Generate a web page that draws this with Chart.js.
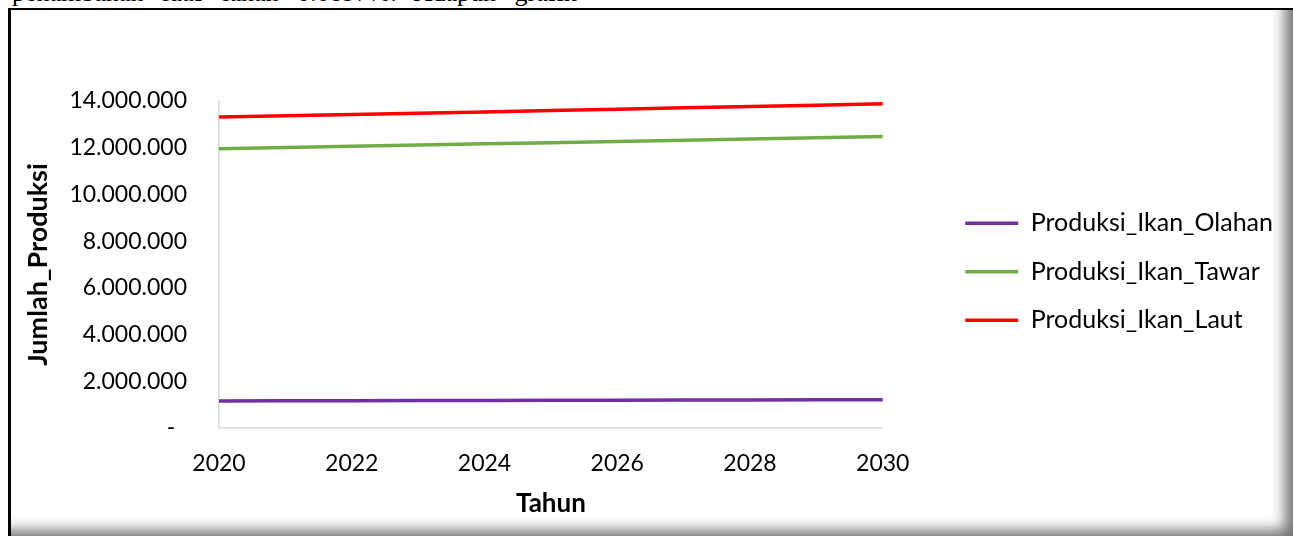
<!DOCTYPE html>
<html>
<head>
<meta charset="utf-8">
<script src="https://cdn.jsdelivr.net/npm/chart.js@4.4.0/dist/chart.umd.min.js"></script>
<style>
  html, body { margin: 0; padding: 0; background: #fff; width: 1293px; height: 536px; overflow: hidden; }
  #teks { position: absolute; left: 12px; top: -20px; font-family: "Liberation Serif", serif; font-size: 26px; line-height: 26px; word-spacing: 12px; white-space: nowrap; color: #000; }
  #bingkai { position: absolute; left: 8px; top: 8px; right: 0; bottom: 0; box-sizing: border-box;
    border-left: 3px solid #000; border-top: 2px solid #000; background: #fff;
    box-shadow: inset -16px -14px 14px -8px rgba(0,0,0,0.55); }
  #grafik { position: absolute; left: 0; top: 0; }
</style>
</head>
<body>
<div id="teks">penambahan luas lahan 0.0897%. Adapun grafik</div>
<div id="bingkai"></div>
<canvas id="grafik" width="1293" height="536"></canvas>
<script>
// tahun proyeksi
const tahun = [2020, 2021, 2022, 2023, 2024, 2025, 2026, 2027, 2028, 2029, 2030];

const ikanOlahan = [1160000, 1165000, 1170000, 1175000, 1180000, 1185000, 1190000, 1195000, 1200000, 1205000, 1210000];
const ikanTawar = [11960000, 12010000, 12062000, 12113000, 12165000, 12217000, 12269000, 12321000, 12374000, 12427000, 12480000];
const ikanLaut = [13310000, 13365000, 13420000, 13477000, 13534000, 13590000, 13648000, 13706000, 13764000, 13822000, 13880000];

const namaSeri = ['Produksi_Ikan_Olahan', 'Produksi_Ikan_Tawar', 'Produksi_Ikan_Laut'];
const warnaSeri = ['#7030A0', '#70AD47', '#FF0000'];

const tickY = [0, 2000000, 4000000, 6000000, 8000000, 10000000, 12000000, 14000000];

function titik(vals) {
  return tahun.map((t, i) => ({ x: t, y: vals[i] }));
}

function formatRibuan(v) {
  if (v === 0) return '-  ';
  return String(v).replace(/\B(?=(\d{3})+(?!\d))/g, '.');
}

Chart.defaults.font.family = 'Lato';
Chart.defaults.font.size = 23;
Chart.defaults.color = '#000';

const seri = [ikanOlahan, ikanTawar, ikanLaut];

const ctx = document.getElementById('grafik');

new Chart(ctx, {
  type: 'line',
  data: {
    datasets: seri.map((vals, i) => ({
      label: namaSeri[i],
      data: titik(vals),
      borderColor: warnaSeri[i],
      backgroundColor: warnaSeri[i],
      borderWidth: 3.5,
      borderCapStyle: 'round',
      pointRadius: 0,
      tension: 0
    }))
  },
  options: {
    responsive: false,
    animation: false,
    layout: {
      padding: { left: 18, top: 101, right: 10, bottom: 13 }
    },
    plugins: {
      tooltip: { enabled: false },
      legend: {
        position: 'right',
        align: 'center',
        fullSize: false,
        maxWidth: 440,
        title: { display: true, text: '', padding: 0, font: { size: 12 } },
        labels: {
          usePointStyle: true,
          pointStyle: 'line',
          pointStyleWidth: 53,
          padding: 23.5,
          font: { size: 25 }
        }
      }
    },
    scales: {
      x: {
        type: 'linear',
        min: 2020,
        max: 2030,
        grid: { display: false, drawTicks: false },
        border: { display: true, color: '#d9d9d9', width: 1.5 },
        ticks: {
          stepSize: 2,
          padding: 22,
          maxRotation: 0,
          callback: v => String(v)
        },
        title: {
          display: true,
          text: 'Tahun',
          font: { weight: 'bold', size: 26 },
          padding: { top: 0, bottom: 4 }
        },
        afterFit: s => { s.height = 95; }
      },
      y: {
        min: 0,
        max: 14000000,
        grid: { display: false, drawTicks: false },
        border: { display: true, color: '#d9d9d9', width: 1.5 },
        afterBuildTicks: s => { s.ticks = tickY.map(v => ({ value: v })); },
        ticks: {
          padding: 32,
          callback: v => formatRibuan(v)
        },
        title: {
          display: true,
          text: 'Jumlah_Produksi',
          font: { weight: 'bold', size: 27 },
          padding: { top: 4, bottom: 4 }
        },
        afterFit: s => { s.width = 201; }
      },
      jarak: {
        position: 'right',
        display: true,
        grid: { display: false, drawTicks: false },
        border: { display: false },
        ticks: { display: false },
        afterFit: s => { s.width = 59; }
      }
    }
  }
});
</script>
</body>
</html>
